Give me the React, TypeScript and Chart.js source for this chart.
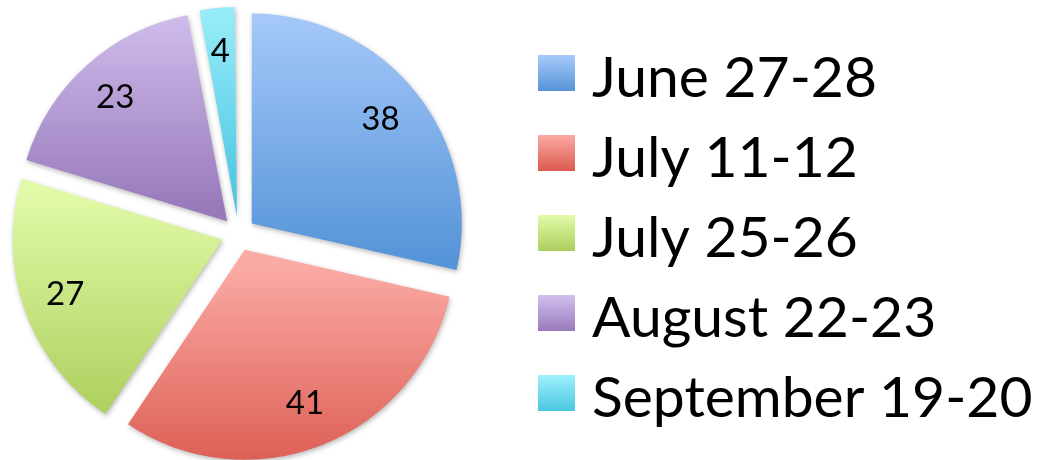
import React, { useEffect, useRef } from "react";
import { Chart, registerables } from "chart.js";
Chart.register(...registerables);

const labels = ["June 27-28", "July 11-12", "July 25-26", "August 22-23", "September 19-20"];
const values = [38, 41, 27, 23, 4];
const topColors = ["#A9CBFB", "#FBAAA5", "#E3FBAA", "#D3C0EF", "#A0F0FC"];
const bottomColors = ["#5594D8", "#DB5A4F", "#ABCF5C", "#987ABB", "#4AC6E1"];

const RADIUS = 210;
const OFFSET = 17; // visual explode distance in px (Chart.js arc translates by offset / 4)
const FONT = "Lato, 'Open Sans', sans-serif";

function sectorYRange(cy: number, r: number, a0: number, a1: number): [number, number] {
  let minY = cy;
  let maxY = cy;
  const consider = (a: number) => {
    const y = cy + Math.sin(a) * r;
    minY = Math.min(minY, y);
    maxY = Math.max(maxY, y);
  };
  consider(a0);
  consider(a1);
  for (let k = -4; k <= 4; k++) {
    const a = Math.PI / 2 + k * Math.PI;
    if (a > a0 && a < a1) consider(a);
  }
  return [minY, maxY];
}

function sliceGradient(c: any) {
  const chart = c.chart;
  const area = chart.chartArea;
  const i = c.dataIndex;
  if (!area || i === undefined) return topColors[i ?? 0];
  const total = values.reduce((s, v) => s + v, 0);
  let cum = 0;
  for (let k = 0; k < i; k++) cum += values[k];
  const a0 = -Math.PI / 2 + (2 * Math.PI * cum) / total;
  const a1 = a0 + (2 * Math.PI * values[i]) / total;
  const mid = (a0 + a1) / 2;
  const cy = (area.top + area.bottom) / 2 + Math.sin(mid) * OFFSET;
  const [y0, y1] = sectorYRange(cy, RADIUS, a0, a1);
  const g = chart.ctx.createLinearGradient(0, y0, 0, y1);
  g.addColorStop(0, topColors[i]);
  g.addColorStop(1, bottomColors[i]);
  return g;
}

const piePlugin = {
  id: "pieExtras",
  beforeDatasetsDraw(chart: any) {
    // Chart.js enlarges exploded arcs by offset*(1-sin(circumference)); compensate
    const meta = chart.getDatasetMeta(0);
    meta.data.forEach((arc: any) => {
      const circ = arc.endAngle - arc.startAngle;
      const fix = 1 - Math.sin(Math.min(Math.PI, circ));
      arc.outerRadius = RADIUS - OFFSET * fix;
    });
    const ctx = chart.ctx;
    ctx.save();
    ctx.shadowColor = "rgba(0,0,0,0.28)";
    ctx.shadowBlur = 5;
    ctx.shadowOffsetX = 1;
    ctx.shadowOffsetY = 2;
  },
  afterDatasetsDraw(chart: any) {
    const ctx = chart.ctx;
    ctx.restore();
    const meta = chart.getDatasetMeta(0);
    ctx.save();
    ctx.fillStyle = "#000";
    ctx.font = `33px ${FONT}`;
    ctx.textAlign = "center";
    ctx.textBaseline = "alphabetic";
    meta.data.forEach((arc: any, i: number) => {
      const { x, y, startAngle, endAngle } = arc.getProps(["x", "y", "startAngle", "endAngle"], true);
      const mid = (startAngle + endAngle) / 2;
      const d = OFFSET + RADIUS * 0.79;
      const px = x + Math.cos(mid) * d;
      const py = y + Math.sin(mid) * d;
      ctx.fillText(String(values[i]), px - 1, py + 10);
    });
    ctx.restore();
  },
  afterDraw(chart: any) {
    const ctx = chart.ctx;
    ctx.save();
    const size = 57;
    ctx.font = `${size}px ${FONT}`;
    ctx.textAlign = "left";
    ctx.textBaseline = "alphabetic";
    labels.forEach((lab, i) => {
      const bx = 538;
      const by = 55 + i * 80;
      const g = ctx.createLinearGradient(0, by, 0, by + 36);
      g.addColorStop(0, topColors[i]);
      g.addColorStop(1, bottomColors[i]);
      ctx.fillStyle = g;
      ctx.fillRect(bx, by, 37, 36);
      ctx.fillStyle = "#000";
      ctx.fillText(lab, 592, by + 42);
    });
    ctx.restore();
  },
};

export default function App() {
  const ref = useRef<HTMLCanvasElement | null>(null);
  useEffect(() => {
    if (!ref.current) return;
    const chart = new Chart(ref.current, {
      type: "pie",
      data: {
        labels,
        datasets: [
          {
            data: values,
            backgroundColor: sliceGradient as any,
            borderWidth: 0,
            offset: OFFSET * 4,
            radius: RADIUS,
            clip: false as any,
          } as any,
        ],
      },
      options: {
        responsive: false,
        animation: false,
        events: [],
        layout: { padding: { left: 0, right: 571, top: 8, bottom: 0 } },
        plugins: {
          legend: { display: false },
          tooltip: { enabled: false },
        },
      },
      plugins: [piePlugin],
    });
    return () => chart.destroy();
  }, []);
  return (
    <div style={{ position: "absolute", left: 0, top: 0, width: 1048, height: 460, background: "#fff" }}>
      <canvas ref={ref} width={1048} height={460} style={{ display: "block" }} />
    </div>
  );
}
